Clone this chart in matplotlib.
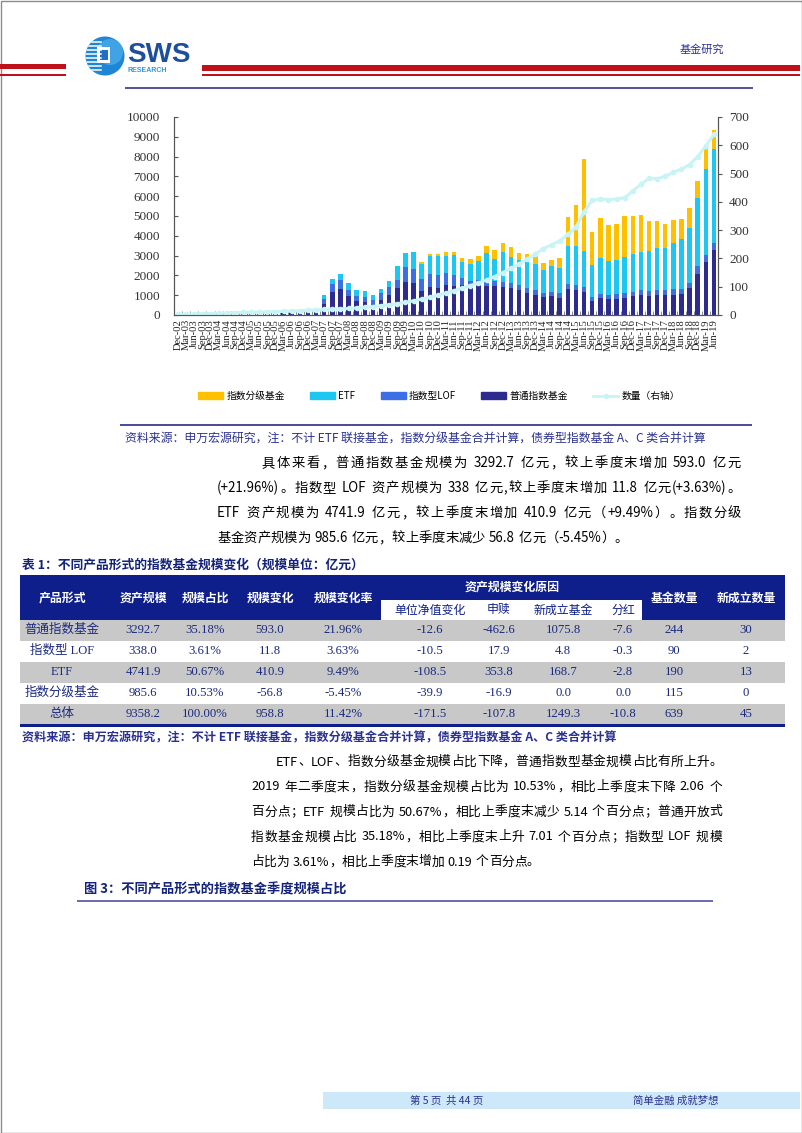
import re
import numpy as np
from matplotlib import pyplot as plt
from matplotlib.patches import Rectangle, Circle, Patch
from matplotlib.lines import Line2D

W, H = 802, 1133
CJK = 'Noto Sans CJK SC'
SERIF = 'Liberation Serif'
plt.rcParams['font.family'] = [CJK, 'DejaVu Sans']

# ---- chart data: quarterly, Dec-02 .. Jun-19 (亿元 / 只) ----
quarters = ['Dec-02'] + [f'{m}-{y:02d}' for y in range(3, 20) for m in ('Mar', 'Jun', 'Sep', 'Dec')]
quarters = quarters[:67]

common = [30, 40, 45, 50, 60, 65, 70, 60, 60, 65, 70, 75, 85, 90, 100, 120, 140, 180,
          550, 1150, 1300, 950, 700, 670, 500, 760, 1000, 1350,
          1650, 1600, 1200, 1400, 1350, 1500, 1450, 1500, 1350, 1450,
          1450, 1450, 1400, 1350, 1250, 1100, 1000, 900, 950, 880,
          1300, 1250, 1150, 700, 850, 800, 820, 880, 950, 1000,
          950, 1000, 1000, 1030, 1050, 1350, 2050, 2700, 3293]
lof = [0, 0, 0, 0, 0, 0, 0, 0, 0, 0, 5, 10, 15, 20, 25, 30, 40, 50,
       250, 400, 450, 330, 280, 250, 250, 330, 420, 420,
       750, 700, 600, 650, 650, 600, 550, 350, 350, 300,
       250, 250, 250, 250, 250, 250, 250, 230, 230, 230,
       280, 280, 280, 230, 230, 220, 220, 220, 230, 240,
       250, 250, 250, 260, 270, 290, 400, 326, 338]
etf = [0, 0, 0, 0, 0, 0, 0, 0, 25, 30, 35, 35, 40, 45, 50, 55, 60, 70,
       200, 250, 320, 320, 290, 300, 250, 210, 300, 710,
       710, 860, 760, 940, 980, 900, 1010, 850, 900, 1000,
       1450, 1130, 1510, 1350, 1280, 1370, 1320, 1140, 1290, 1250,
       1930, 1980, 1780, 1590, 1780, 1710, 1730, 1840, 1890, 1950,
       2030, 2140, 2140, 2350, 2500, 2730, 3470, 4331, 4742]
graded = [0, 0, 0, 0, 0, 0, 0, 0, 0, 0, 0, 0, 0, 0, 0, 0, 0, 0,
          0, 0, 0, 0, 0, 0, 0, 0, 0, 0,
          0, 0, 95, 90, 100, 180, 180, 160, 210, 230,
          350, 430, 490, 500, 370, 350, 400, 370, 330, 530,
          1450, 2050, 4690, 1680, 2060, 1810, 1810, 2060, 1920, 1850,
          1520, 1360, 1230, 1170, 1030, 1010, 870, 1042, 986]
count = [3, 3, 4, 4, 5, 6, 7, 8, 9, 10, 10, 11, 12, 13, 14, 15, 17, 18,
         20, 21, 22, 23, 25, 27, 30, 33, 36, 40,
         45, 50, 56, 63, 70, 78, 86, 95, 104, 114,
         124, 136, 150, 165, 180, 198, 215, 235, 248, 262,
         285, 310, 365, 405, 410, 408, 410, 415, 438, 462,
         483, 482, 490, 505, 515, 532, 560, 598, 639]

# ---- table data ----
row_names = ['普通指数基金', '指数型 LOF', 'ETF', '指数分级基金', '总体']
asset_size = [3292.7, 338.0, 4741.9, 985.6, 9358.2]
share = [35.18, 3.61, 50.67, 10.53, 100.00]
size_change = [593.0, 11.8, 410.9, -56.8, 958.8]
change_rate = [21.96, 3.63, 9.49, -5.45, 11.42]
nav_change = [-12.6, -10.5, -108.5, -39.9, -171.5]
net_subs = [-462.6, 17.9, 353.8, -16.9, -107.8]
new_funds = [1075.8, 4.8, 168.7, 0.0, 1249.3]
dividend = [-7.6, -0.3, -2.8, 0.0, -10.8]
n_funds = [244, 90, 190, 115, 639]
n_new = [30, 2, 13, 0, 45]

C_GOLD = '#FFC000'
C_ETF = '#1EC6F2'
C_LOF = '#3C6FE6'
C_NAVY = '#2D2C8E'
C_LINE = '#C8F4F6'
RED = '#C0111B'
NAVY_T = '#0E1F8B'
TXT_BLUE = '#2A3190'

fig = plt.figure(figsize=(W / 100, H / 100), dpi=100)
page = fig.add_axes([0, 0, 1, 1])
page.set_xlim(0, W)
page.set_ylim(H, 0)
page.axis('off')


def box(x, y, w, h, color, **kw):
    page.add_patch(Rectangle((x, y), w, h, facecolor=color, edgecolor='none', **kw))


def hline(x0, x1, y, color, lw_px):
    page.plot([x0, x1], [y, y], color=color, lw=lw_px * 0.72, solid_capstyle='butt')


# page frame
page.add_patch(Rectangle((0.5, 0.5), W - 1, H - 1, fill=False, edgecolor='#8c8c8c', lw=1))

# header
box(0, 64, 66, 5, RED)
box(0, 74, 66, 2, RED)
box(202, 65, 598, 6, RED)
box(202, 73.5, 598, 2, RED)
logo = Circle((105, 56), 19.5, facecolor='#1f86d6', edgecolor='none')
page.add_patch(logo)
glow = Circle((110, 52), 13, facecolor='#5ab8ee', edgecolor='none', alpha=0.6)
page.add_patch(glow)
glow.set_clip_path(logo)
for yy in range(42, 72, 4):
    l, = page.plot([84, 101], [yy, yy], color='white', lw=1.1)
    l.set_clip_path(logo)
box(97, 47, 13, 16, 'white')
box(100, 50, 8, 10, '#1f6fc4')
page.text(127, 55, 'SWS', fontsize=20, weight='bold', family='Liberation Sans', color='#1d4f9c',
          va='center', ha='left')
page.text(128, 70.5, 'RESEARCH', fontsize=5, weight='bold', family='Liberation Sans', color='#2b9be0',
          va='center', ha='left')
page.text(680, 50, '基金研究', fontsize=8, color=TXT_BLUE, va='center', ha='left')
hline(125, 753, 88, '#1c2478', 1.5)

# ---- chart ----
ax = fig.add_axes([174 / W, 1 - 315 / H, 544 / W, 198 / H])
x = np.arange(len(quarters))
bw = 0.55
bottom = np.array(common, float)
ax.bar(x, common, bw, color=C_NAVY)
ax.bar(x, lof, bw, bottom=bottom, color=C_LOF)
bottom += lof
ax.bar(x, etf, bw, bottom=bottom, color=C_ETF)
bottom += etf
ax.bar(x, graded, bw, bottom=bottom, color=C_GOLD)
ax.set_xlim(-0.5, len(x) - 0.5)
ax.set_ylim(0, 10000)
ax.set_yticks(range(0, 10001, 1000))
ax.set_xticks(x)
ax.set_xticklabels(quarters, rotation=90, fontsize=7.6, family=SERIF, color='#222222')
ax.set_xticks(np.arange(-0.5, len(x), 1), minor=True)
ax.tick_params(axis='x', which='major', length=0, pad=3)
ax.tick_params(axis='x', which='minor', direction='in', length=3, color='#777777')
ax.tick_params(axis='y', direction='in', length=3, pad=10, color='#555555', labelsize=9.5,
               labelcolor='#333333')
for lab in ax.get_yticklabels():
    lab.set_family(SERIF)

ax2 = ax.twinx()
ax2.plot(x, count, color=C_LINE, lw=2.2, marker='o', ms=3, mec=C_LINE, mfc=C_LINE)
ax2.set_ylim(0, 700)
ax2.set_yticks(range(0, 701, 100))
ax2.tick_params(axis='y', direction='out', length=3, pad=5, color='#555555', labelsize=9.5,
                labelcolor='#333333')
for lab in ax2.get_yticklabels():
    lab.set_family(SERIF)
for a in (ax, ax2):
    a.spines['top'].set_visible(False)
    for s in ('left', 'right', 'bottom'):
        a.spines[s].set_color('#555555')
        a.spines[s].set_linewidth(0.8)

handles = [Patch(color=C_GOLD), Patch(color=C_ETF), Patch(color=C_LOF), Patch(color=C_NAVY),
           Line2D([], [], color=C_LINE, lw=2, marker='o', ms=3, mfc=C_LINE, mec=C_LINE)]
labels = ['指数分级基金', 'ETF', '指数型LOF', '普通指数基金', '数量（右轴）']
fig.legend(handles, labels, loc='center', bbox_to_anchor=(439 / W, 1 - 396 / H), ncol=5, frameon=False,
           fontsize=7, handlelength=2.6, handleheight=0.6, handletextpad=0.3, columnspacing=2.6)

hline(120, 752, 425, '#4a4f96', 2)
page.text(125, 439, '资料来源：申万宏源研究，注：不计 ETF 联接基金，指数分级基金合并计算，债券型指数基金 A、C 类合并计算',
          fontsize=8.6, color=TXT_BLUE, va='center', ha='left')

# ---- justified paragraph lines ----
renderer = fig.canvas.get_renderer()


def put_line(s, x0, x1, y, size, fill=True, color='black'):
    parts = re.findall(r'[!-~]+| |.', s)
    items = []
    for p in parts:
        if p == ' ':
            items.append((None, size * 0.28 * 100 / 72))
            continue
        t = page.text(x0, y, p, fontsize=size, color=color, va='center', ha='left')
        items.append((t, t.get_window_extent(renderer).width))
    total = sum(w for _, w in items)
    gap = (x1 - x0 - total) / (len(items) - 1) if fill and len(items) > 1 else 0
    xx = x0
    for t, w in items:
        if t is not None:
            t.set_x(xx)
        xx += w + gap


para1 = ['具体来看，普通指数基金规模为 3292.7 亿元，较上季度末增加 593.0 亿元',
         '(+21.96%)。指数型 LOF 资产规模为 338 亿元,较上季度末增加 11.8 亿元(+3.63%)。',
         'ETF 资产规模为 4741.9 亿元，较上季度末增加 410.9 亿元（+9.49%）。指数分级',
         '基金资产规模为 985.6 亿元，较上季度末减少 56.8 亿元（-5.45%）。']
for i, s in enumerate(para1):
    put_line(s, 262 if i == 0 else 217, 741, 463 + 25 * i, 9.6, fill=i < len(para1) - 1)

para2 = ['ETF、LOF、指数分级基金规模占比下降，普通指数型基金规模占比有所上升。',
         '2019 年二季度末，指数分级基金规模占比为 10.53%，相比上季度末下降 2.06 个',
         '百分点；ETF 规模占比为 50.67%，相比上季度末减少 5.14 个百分点；普通开放式',
         '指数基金规模占比 35.18%，相比上季度末上升 7.01 个百分点；指数型 LOF 规模',
         '占比为 3.61%，相比上季度末增加 0.19 个百分点。']
for i, s in enumerate(para2):
    put_line(s, 276 if i == 0 else 251, 722, 762 + 25 * i, 9.2, fill=i < len(para2) - 1)

# ---- table ----
page.text(22, 565, '表 1：不同产品形式的指数基金规模变化（规模单位：亿元）', fontsize=9.2, weight='bold',
          color='#14237a', va='center', ha='left')
cols_x = [62, 143, 205, 270, 343, 430, 499, 563, 623, 674, 746]
box(20, 575, 765, 44.5, NAVY_T)
box(381, 600, 261, 19.5, 'white')
heads = {0: '产品形式', 1: '资产规模', 2: '规模占比', 3: '规模变化', 4: '规模变化率', 9: '基金数量', 10: '新成立数量'}
for c, s in heads.items():
    page.text(cols_x[c], 598, s, color='white', weight='bold', fontsize=8.6, ha='center', va='center')
page.text(512, 587, '资产规模变化原因', color='white', weight='bold', fontsize=8.6, ha='center', va='center')
for c, s in zip(range(5, 9), ['单位净值变化', '申赎', '新成立基金', '分红']):
    page.text(cols_x[c], 610, s, color=NAVY_T, fontsize=8.6, ha='center', va='center')

row_y = [630, 651, 672, 693, 714]
for r, y in enumerate(row_y):
    if r % 2 == 0:
        box(20, y - 10.5, 765, 21, '#C8C8C8')
    cells = [f'{asset_size[r]:.1f}', f'{share[r]:.2f}%', f'{size_change[r]:.1f}', f'{change_rate[r]:.2f}%',
             f'{nav_change[r]:.1f}', f'{net_subs[r]:.1f}', f'{new_funds[r]:.1f}', f'{dividend[r]:.1f}',
             str(n_funds[r]), str(n_new[r])]
    page.text(cols_x[0], y, row_names[r], fontsize=9, color='#1b2a7e', ha='center', va='center',
              family=[SERIF, CJK], weight='medium')
    for c, s in enumerate(cells, start=1):
        page.text(cols_x[c], y, s, fontsize=9.2, color='#1b2a7e', ha='center', va='center', family=SERIF)
box(20, 724, 765, 3, NAVY_T)
page.text(22, 738, '资料来源：申万宏源研究，注：不计 ETF 联接基金，指数分级基金合并计算，债券型指数基金 A、C 类合并计算',
          fontsize=8.7, weight='bold', color=TXT_BLUE, va='center', ha='left')

page.text(84, 889, '图 3：不同产品形式的指数基金季度规模占比', fontsize=9.5, weight='bold', color='#14237a',
          va='center', ha='left')
hline(77, 713, 900.5, '#3b3f8f', 1.5)

# footer
box(323, 1092, 477, 17, '#CDE8F8')
page.text(410, 1100.5, '第 5 页  共 44 页', fontsize=7.5, color=TXT_BLUE, va='center', ha='left')
page.text(633, 1100.5, '简单金融 成就梦想', fontsize=7.5, color=TXT_BLUE, va='center', ha='left')

fig.savefig('out.png', dpi=100)
